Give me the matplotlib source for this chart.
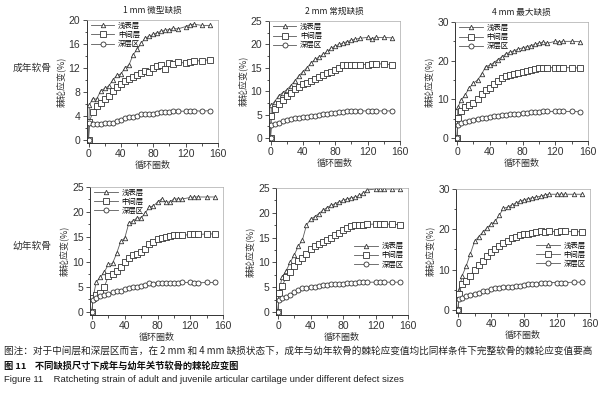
import matplotlib
matplotlib.use("Agg")
import matplotlib.pyplot as plt
from matplotlib.ticker import MultipleLocator

plt.rcParams['font.family'] = ['Noto Sans CJK SC', 'DejaVu Sans']

# cycle numbers (shared x grid for all curves)
cycles = [0, 1, 5, 10, 15, 20, 25, 30, 35, 40, 45, 50, 55, 60, 65, 70,
          75, 80, 85, 90, 95, 100, 105, 110, 120, 125, 130, 140, 150]

layers = ['浅表层', '中间层', '深层区']
defects = ['1 mm 微型缺损', '2 mm 常规缺损', '4 mm 最大缺损']
groups = ['成年软骨', '幼年软骨']

# adult cartilage
adult_1mm_top = [0, 5.8, 6.9, 6.8, 8.2, 8.6, 9.0, 10.0, 10.8, 11.0, 12.0, 12.5, 14.2, 15.1, 16.1,
                 17.0, 17.3, 17.6, 17.9, 18.1, 18.3, 18.4, 18.6, 18.5, 18.9, 19.2, 19.3, 19.1, 19.1]
adult_1mm_mid = [0, 3.0, 4.6, 5.6, 6.2, 6.8, 7.3, 8.2, 8.8, 9.3, 9.8, 10.1, 10.5, 10.9, 11.1,
                 11.5, 11.3, 12.0, 12.3, 12.5, 11.9, 12.8, 12.6, 13.0, 12.8, 13.0, 13.2, 13.2, 13.4]
adult_1mm_deep = [0, 2.9, 2.6, 2.6, 2.6, 2.9, 2.8, 2.9, 3.2, 3.4, 3.6, 3.8, 3.9, 4.0, 4.4,
                  4.3, 4.3, 4.4, 4.5, 4.6, 4.6, 4.7, 4.8, 4.8, 4.8, 4.85, 4.9, 4.8, 4.9]

adult_2mm_top = [0, 7.0, 7.8, 9.0, 9.7, 10.3, 11.2, 12.2, 13.3, 14.2, 15.0, 16.0, 16.8, 17.3, 17.9,
                 18.5, 19.2, 19.7, 20.0, 20.3, 20.6, 20.9, 21.1, 21.3, 21.5, 21.2, 21.5, 21.5, 21.4]
adult_2mm_mid = [0, 4.8, 6.2, 7.2, 8.2, 9.0, 9.6, 10.5, 11.0, 11.5, 11.8, 12.2, 12.6, 13.0, 13.5,
                 14.0, 14.2, 14.5, 15.0, 15.5, 15.5, 15.6, 15.7, 15.7, 15.7, 15.8, 15.9, 15.8, 15.7]
adult_2mm_deep = [0, 2.7, 3.0, 3.3, 3.6, 3.8, 4.0, 4.2, 4.3, 4.4, 4.5, 4.7, 4.8, 5.0, 5.1,
                  5.2, 5.3, 5.4, 5.5, 5.6, 5.7, 5.7, 5.75, 5.8, 5.8, 5.8, 5.8, 5.8, 5.8]

adult_4mm_top = [0, 8.0, 9.8, 11.2, 13.0, 14.2, 15.0, 16.5, 18.5, 18.8, 19.5, 20.3, 21.0, 21.8, 22.2,
                 22.6, 23.0, 23.3, 23.6, 23.9, 24.2, 24.5, 24.8, 24.5, 25.0, 24.8, 25.0, 25.0, 24.9]
adult_4mm_mid = [0, 5.3, 7.0, 8.0, 8.5, 9.1, 10.0, 11.5, 12.3, 13.0, 14.0, 14.8, 15.5, 16.0, 16.2,
                 16.6, 16.8, 17.0, 17.3, 17.6, 17.8, 18.0, 18.1, 18.2, 18.2, 18.2, 18.2, 18.2, 18.1]
adult_4mm_deep = [0, 3.3, 3.8, 4.2, 4.5, 4.8, 5.0, 5.2, 5.3, 5.5, 5.6, 5.8, 5.9, 6.0, 6.1,
                  6.2, 6.3, 6.5, 6.6, 6.7, 6.8, 6.8, 6.9, 6.9, 6.9, 6.9, 6.9, 6.9, 6.8]

# juvenile cartilage
juv_1mm_top = [0, 2.5, 6.0, 6.9, 8.0, 9.5, 9.7, 11.7, 14.1, 14.8, 17.8, 18.2, 18.8, 18.8, 19.8,
               21.0, 21.2, 22.0, 22.6, 22.0, 22.0, 22.6, 22.6, 22.6, 22.9, 23.0, 23.0, 23.0, 23.0]
juv_1mm_mid = [0, 2.8, 3.3, 3.8, 5.0, 7.2, 7.6, 8.2, 9.0, 10.0, 10.8, 11.3, 11.5, 12.0, 12.5,
               13.5, 14.0, 14.5, 14.8, 15.0, 15.2, 15.4, 15.4, 15.3, 15.5, 15.5, 15.5, 15.6, 15.6]
juv_1mm_deep = [0, 2.3, 2.8, 3.1, 3.4, 3.6, 3.9, 4.2, 4.1, 4.6, 4.8, 5.0, 5.0, 5.2, 5.4,
                5.7, 5.6, 5.7, 5.7, 5.8, 5.7, 5.8, 5.8, 5.9, 5.9, 5.8, 5.8, 5.9, 5.9]

juv_2mm_top = [0, 4.0, 7.0, 8.3, 10.0, 11.5, 13.3, 14.5, 17.5, 18.7, 19.2, 19.8, 20.5, 21.0, 21.5,
               21.8, 22.2, 22.5, 22.8, 23.0, 23.2, 23.5, 24.0, 24.6, 24.8, 24.8, 24.8, 24.8, 24.8]
juv_2mm_mid = [0, 3.8, 5.2, 7.0, 8.0, 9.2, 10.2, 10.8, 11.6, 12.6, 13.2, 13.7, 14.2, 14.6, 15.0,
               15.5, 16.0, 16.5, 17.0, 17.4, 17.5, 17.6, 17.6, 17.7, 17.7, 17.7, 17.7, 17.7, 17.6]
juv_2mm_deep = [0, 2.5, 2.8, 3.0, 3.5, 4.0, 4.5, 4.8, 4.9, 5.0, 5.1, 5.3, 5.4, 5.5, 5.6,
                5.6, 5.7, 5.7, 5.8, 5.8, 5.9, 6.0, 6.0, 6.0, 6.0, 6.0, 6.0, 6.0, 6.0]

juv_4mm_top = [0, 5.0, 8.5, 11.0, 14.0, 17.0, 18.2, 19.3, 20.3, 21.3, 22.0, 23.5, 25.2, 25.5, 26.0,
               26.5, 27.0, 27.3, 27.6, 27.8, 28.0, 28.2, 28.5, 28.7, 28.7, 28.7, 28.7, 28.7, 28.7]
juv_4mm_mid = [0, 4.0, 6.5, 7.2, 8.5, 10.0, 11.2, 12.2, 13.5, 14.3, 15.0, 15.8, 16.5, 17.2, 17.8,
               18.2, 18.5, 18.8, 18.9, 19.1, 19.3, 19.5, 19.4, 19.5, 19.4, 19.5, 19.5, 19.4, 19.4]
juv_4mm_deep = [0, 2.8, 3.0, 3.5, 3.8, 4.0, 4.3, 4.6, 4.8, 5.2, 5.4, 5.5, 5.6, 5.7, 5.8,
                5.9, 6.0, 6.2, 6.4, 6.5, 6.5, 6.7, 6.8, 6.8, 6.8, 6.8, 6.8, 6.9, 6.9]

fig = plt.figure(figsize=(6.03, 3.93), dpi=100)

# panel boxes in pixels: (left, top, right, bottom)
boxes = [(86.5, 20, 218, 143), (268.5, 21, 400, 141), (455, 22, 588, 141),
         (90, 187, 223, 315), (276, 188, 408, 315), (456, 189, 590, 313)]
W, H = 603.0, 393.0

panels = [
    (adult_1mm_top, adult_1mm_mid, adult_1mm_deep, 20, 4, 2),
    (adult_2mm_top, adult_2mm_mid, adult_2mm_deep, 25, 5, 2.5),
    (adult_4mm_top, adult_4mm_mid, adult_4mm_deep, 30, 10, 5),
    (juv_1mm_top, juv_1mm_mid, juv_1mm_deep, 25, 5, 2.5),
    (juv_2mm_top, juv_2mm_mid, juv_2mm_deep, 25, 5, 2.5),
    (juv_4mm_top, juv_4mm_mid, juv_4mm_deep, 30, 10, 5),
]

markers = ['^', 's', 'o']
msizes = [3.2, 4.6, 3.6]
lc = '#5a5a5a'
sans = ['Liberation Sans', 'DejaVu Sans']

for i, (top, mid, deep, ymax, ymaj, ymin) in enumerate(panels):
    l, t, r, b = boxes[i]
    ax = fig.add_axes([l / W, 1 - b / H, (r - l) / W, (b - t) / H])
    for ys, m, ms, lab in zip([top, mid, deep], markers, msizes, layers):
        ax.plot(cycles, ys, color=lc, lw=0.6, marker=m, ms=ms, mfc='white',
                mec='#333333', mew=0.6, label=lab)
    ax.set_xlim(-2.5, 160)
    ax.set_ylim(-0.025 * ymax, ymax)
    ax.xaxis.set_major_locator(MultipleLocator(40))
    ax.xaxis.set_minor_locator(MultipleLocator(20))
    ax.yaxis.set_major_locator(MultipleLocator(ymaj))
    ax.yaxis.set_minor_locator(MultipleLocator(ymin))
    ax.tick_params(which='both', direction='out', labelsize=7.5, colors='#333333',
                   width=0.6, pad=1.5)
    ax.tick_params(which='major', length=3)
    ax.tick_params(which='minor', length=1.8)
    for lbl in ax.get_xticklabels() + ax.get_yticklabels():
        lbl.set_family(sans)
    for s in ['left', 'bottom']:
        ax.spines[s].set_linewidth(0.7)
        ax.spines[s].set_color('#333333')
    for s in ['top', 'right']:
        ax.spines[s].set_linewidth(0.5)
        ax.spines[s].set_color('#aaaaaa')
    ax.set_ylabel('棘轮应变(%)', fontsize=6.5, labelpad=2, color='#333333')
    ax.set_xlabel('循环圈数', fontsize=6.5, labelpad=1, color='#333333')
    if i < 4:
        ax.legend(loc='upper left', bbox_to_anchor=(0.0, 1.02), frameon=False,
                  fontsize=5.3, handlelength=3.2, handletextpad=0.5,
                  labelspacing=0.15, borderaxespad=0.2)
    else:
        ax.legend(loc='center right', bbox_to_anchor=(1.0, 0.47), frameon=False,
                  fontsize=5.3, handlelength=3.2, handletextpad=0.5,
                  labelspacing=0.15, borderaxespad=0.2)
    if i < 3:
        ax.set_title(defects[i], fontsize=6.2, pad=5, color='#222222')

fig.text(32 / W, 1 - 68 / H, groups[0], fontsize=7, ha='center', va='center', color='#333333')
fig.text(32 / W, 1 - 246 / H, groups[1], fontsize=7, ha='center', va='center', color='#333333')

fig.text(4 / W, 1 - 351 / H,
         '图注：对于中间层和深层区而言，在 2 mm 和 4 mm 缺损状态下，成年与幼年软骨的棘轮应变值均比同样条件下完整软骨的棘轮应变值要高',
         fontsize=6.95, ha='left', va='center', color='#222222')
fig.text(4 / W, 1 - 366 / H, '图 11    不同缺损尺寸下成年与幼年关节软骨的棘轮应变图',
         fontsize=6.7, ha='left', va='center', fontweight='bold', color='#111111')
fig.text(4 / W, 1 - 380 / H,
         'Figure 11    Ratcheting strain of adult and juvenile articular cartilage under different defect sizes',
         fontsize=6.8, ha='left', va='center', family=sans, color='#222222')

fig.savefig('out.png', dpi=100)
